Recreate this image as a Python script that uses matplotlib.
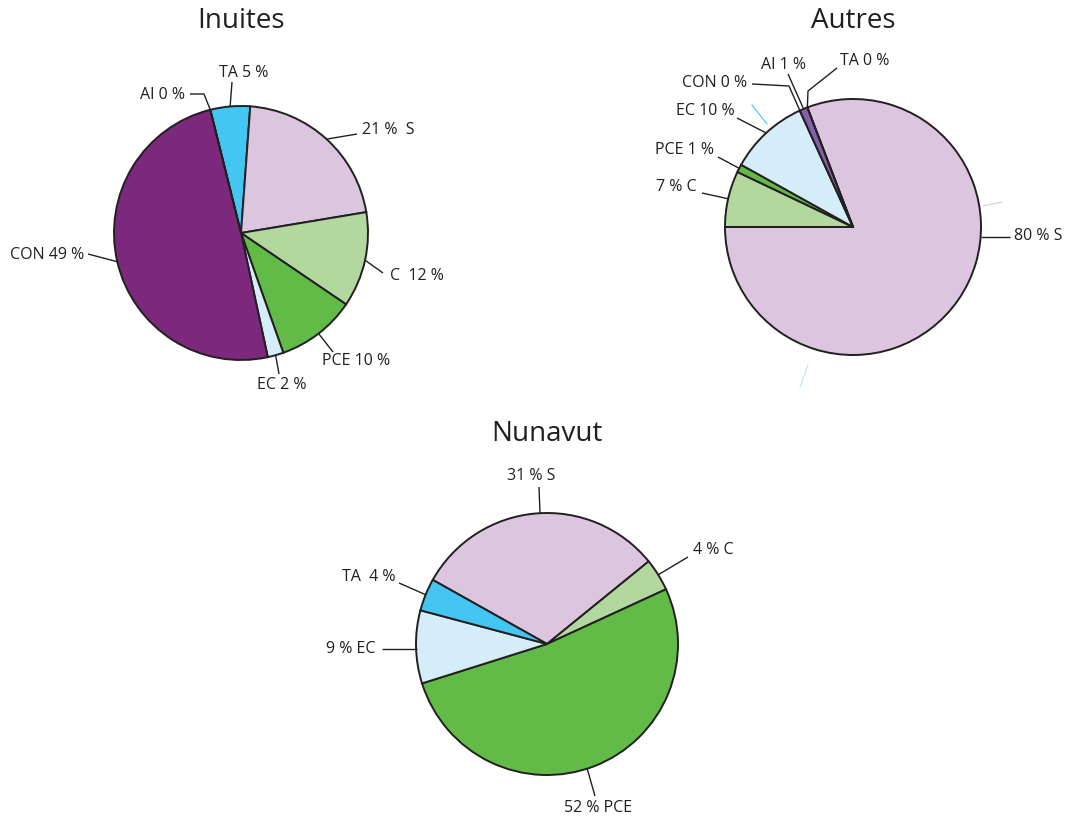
import numpy as np
import matplotlib
matplotlib.use("Agg")
import matplotlib.pyplot as plt

plt.rcParams['font.family'] = ['Open Sans', 'DejaVu Sans']

# ---------------- data ----------------
inuites_cats = ["TA", "S", "C", "PCE", "EC", "CON", "AI"]
inuites_vals = [5, 21, 12, 10, 2, 49, 0]

autres_cats = ["S", "C", "PCE", "EC", "CON", "AI", "TA"]
autres_vals = [80, 7, 1, 10, 0, 1, 0]

nunavut_cats = ["S", "C", "PCE", "EC", "TA"]
nunavut_vals = [31, 4, 52, 9, 4]

colors = {
    "S": "#dbc5df",
    "C": "#b2d8a0",
    "PCE": "#62bb47",
    "EC": "#d4edf9",
    "CON": "#7c287c",
    "AI": "#8560a8",
    "TA": "#43c7f2",
}

W, H = 1068, 818
fig = plt.figure(figsize=(W / 100, H / 100), dpi=100)
ax = fig.add_axes([0, 0, 1, 1])
ax.set_xlim(0, W)
ax.set_ylim(0, H)
ax.set_aspect('equal')
ax.axis('off')

FS = 11.5


def Y(y):
    return H - y


def draw_pie(cats, vals, cx, cy, r, start):
    wedges, _ = ax.pie(vals, colors=[colors[c] for c in cats], startangle=start,
                       counterclock=False, center=(cx, Y(cy)), radius=r,
                       wedgeprops=dict(edgecolor='#231f20', linewidth=1.4),
                       frame=True)
    anchors = {}
    for c, w in zip(cats, wedges):
        a = np.deg2rad((w.theta1 + w.theta2) / 2)
        anchors[c] = (cx + r * np.cos(a), Y(cy) + r * np.sin(a))
    return anchors


def leader(anchor, pts, text, tx, ty, ha='left'):
    xs = [anchor[0]] + [p[0] for p in pts]
    ys = [anchor[1]] + [Y(p[1]) for p in pts]
    ax.plot(xs, ys, color='#231f20', lw=1.0, solid_capstyle='butt')
    ax.text(tx, Y(ty), text, ha=ha, va='center', fontsize=FS, color='#231f20')


# ---------------- Inuites ----------------
a = draw_pie(inuites_cats, inuites_vals, 241, 233, 127, 104)
ax.text(241, Y(21), "Inuites", ha='center', va='center', fontsize=20, color='#231f20')
lab = dict(zip(inuites_cats, inuites_vals))
leader(a["TA"], [(232, 82)], f"TA {lab['TA']} %", 219, 73)
leader(a["AI"], [(204, 94), (190, 94)], f"AI {lab['AI']} %", 185, 95, ha='right')
leader(a["S"], [(357, 134)], f"{lab['S']} %  S", 362, 130)
leader(a["C"], [(383, 273)], f"C  {lab['C']} %", 390, 276)
leader(a["PCE"], [(333, 352)], f"PCE {lab['PCE']} %", 322, 361)
leader(a["EC"], [(279, 374)], f"EC {lab['EC']} %", 257, 385)
leader(a["CON"], [(88, 254)], f"CON {lab['CON']} %", 84, 255, ha='right')

# ---------------- Autres ----------------
a = draw_pie(autres_cats, autres_vals, 853, 227, 128, 110.9)
ax.text(853, Y(21), "Autres", ha='center', va='center', fontsize=20, color='#231f20')
lab = dict(zip(autres_cats, autres_vals))
leader(a["TA"], [(808, 91), (837, 68)], f"TA {lab['TA']} %", 840, 61)
leader(a["AI"], [(788, 74)], f"AI {lab['AI']} %", 761, 65)
leader(a["CON"], [(789, 86), (752, 84)], f"CON {lab['CON']} %", 747, 83, ha='right')
leader(a["EC"], [(737, 118)], f"EC {lab['EC']} %", 735, 111, ha='right')
leader(a["PCE"], [(718, 157)], f"PCE {lab['PCE']} %", 714, 150, ha='right')
leader(a["C"], [(702, 193)], f"{lab['C']} % C", 697, 187, ha='right')
leader((981, Y(237)), [(1010, 237)], f"{lab['S']} % S", 1014, 236)
# faint stray strokes present in the source artwork
ax.plot([752, 767], [Y(105), Y(124)], color='#41c6f0', lw=0.8)
ax.plot([983, 1002], [Y(206), Y(202)], color='#dbc5df', lw=0.8)
ax.plot([808, 800], [Y(365), Y(387)], color='#b8e3f7', lw=0.8)

# ---------------- Nunavut ----------------
a = draw_pie(nunavut_cats, nunavut_vals, 547, 644, 131, 150.7)
ax.text(547, Y(434), "Nunavut", ha='center', va='center', fontsize=20, color='#231f20')
lab = dict(zip(nunavut_cats, nunavut_vals))
leader((540, Y(513)), [(539, 487)], f"{lab['S']} % S", 531, 476, ha='center')
leader(a["C"], [(688, 557)], f"{lab['C']} % C", 693, 550)
leader(a["TA"], [(399, 583)], f"TA  {lab['TA']} %", 396, 577, ha='right')
leader((417, Y(649)), [(382, 649)], f"{lab['EC']} % EC", 376, 649, ha='right')
leader((587, Y(768)), [(595, 796)], f"{lab['PCE']} % PCE", 598, 808, ha='center')

ax.set_xlim(0, W)
ax.set_ylim(0, H)
ax.axis('off')
fig.savefig("out.png", dpi=100, facecolor='white')
